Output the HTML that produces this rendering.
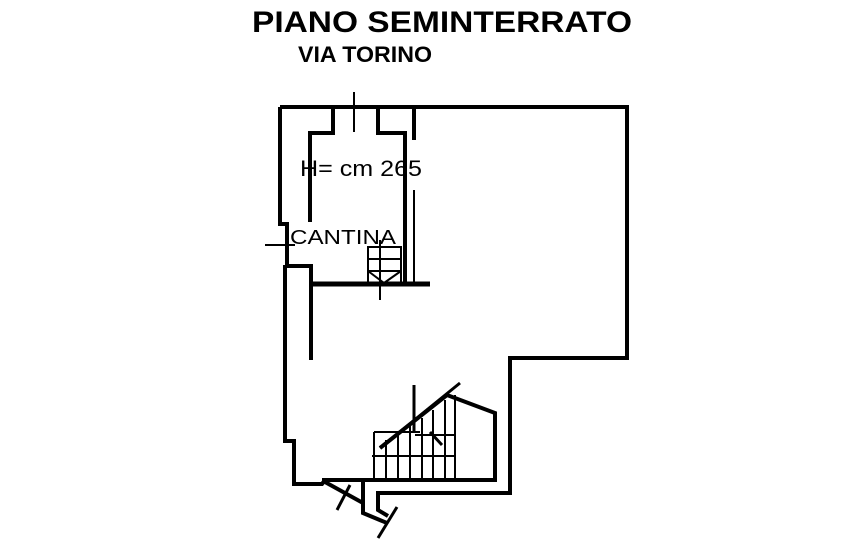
<!DOCTYPE html>
<html><head><meta charset="utf-8"><style>html,body{margin:0;padding:0;background:#fff}svg{display:block}</style></head>
<body>
<svg width="853" height="560" viewBox="0 0 853 560" xmlns="http://www.w3.org/2000/svg">
<g font-family="Liberation Sans, sans-serif" fill="#000">
<text x="252" y="32" font-size="30" font-weight="bold" textLength="380" lengthAdjust="spacingAndGlyphs">PIANO SEMINTERRATO</text>
<text x="298" y="62" font-size="22" font-weight="bold" textLength="134" lengthAdjust="spacingAndGlyphs">VIA TORINO</text>
<text x="300" y="176" font-size="22" textLength="122" lengthAdjust="spacingAndGlyphs">H= cm 265</text>
<text x="290" y="244" font-size="20" textLength="106" lengthAdjust="spacingAndGlyphs">CANTINA</text>
</g>
<g fill="none" stroke="#000" stroke-width="4" stroke-linejoin="miter">
<polyline points="280,107 627,107 627,358 510,358 510,493 378,493 378,510 388,516"/>
<polyline points="280,107 280,224 287,224 287,265"/>
<polyline points="285,265 285,441 294,441 294,484 322,484 325,480"/>
<polyline points="333,107 333,133 310,133 310,222"/>
<polyline points="378,107 378,133 405,133 405,284"/>
<polyline points="414,107 414,140"/>
<line x1="414" y1="190" x2="414" y2="284" stroke-width="2"/>
<polyline points="287,266 311,266 311,360"/>
<line x1="311" y1="284" x2="430" y2="284" stroke-width="5"/>
<polyline points="322,480 495,480 495,413 447,395 380,448"/>
<polyline points="325,482 363,503"/>
<polyline points="363,480 363,513 387,523"/>
</g>
<g stroke="#000" stroke-width="2" fill="none">
<line x1="354" y1="92" x2="354" y2="132"/>
<line x1="265" y1="245" x2="295" y2="245"/>
<line x1="380" y1="240" x2="380" y2="300"/>
<rect x="368" y="247" width="33" height="36"/>
<line x1="368" y1="259" x2="401" y2="259"/>
<line x1="368" y1="271" x2="401" y2="271"/>
<line x1="368" y1="271" x2="384" y2="283"/>
<line x1="401" y1="271" x2="384" y2="283"/>
<line x1="374" y1="432" x2="420" y2="432"/>
<line x1="372" y1="456" x2="455" y2="456"/>
<line x1="415" y1="435" x2="455" y2="435"/>
<line x1="374" y1="432" x2="374" y2="480"/>
<line x1="386" y1="440" x2="386" y2="480"/>
<line x1="398" y1="432" x2="398" y2="480"/>
<line x1="410" y1="425" x2="410" y2="480"/>
<line x1="422" y1="418" x2="422" y2="480"/>
<line x1="433" y1="410" x2="433" y2="480"/>
<line x1="445" y1="400" x2="445" y2="480"/>
<line x1="455" y1="395" x2="455" y2="480"/>
<line x1="380" y1="448" x2="460" y2="383" stroke-width="3"/>
<line x1="414" y1="385" x2="414" y2="432" stroke-width="3"/>
<line x1="430" y1="432" x2="442" y2="445" stroke-width="3"/>
<line x1="350" y1="485" x2="337" y2="510" stroke-width="3"/>
<line x1="397" y1="507" x2="378" y2="538" stroke-width="3"/>
</g>
</svg>
</body></html>
